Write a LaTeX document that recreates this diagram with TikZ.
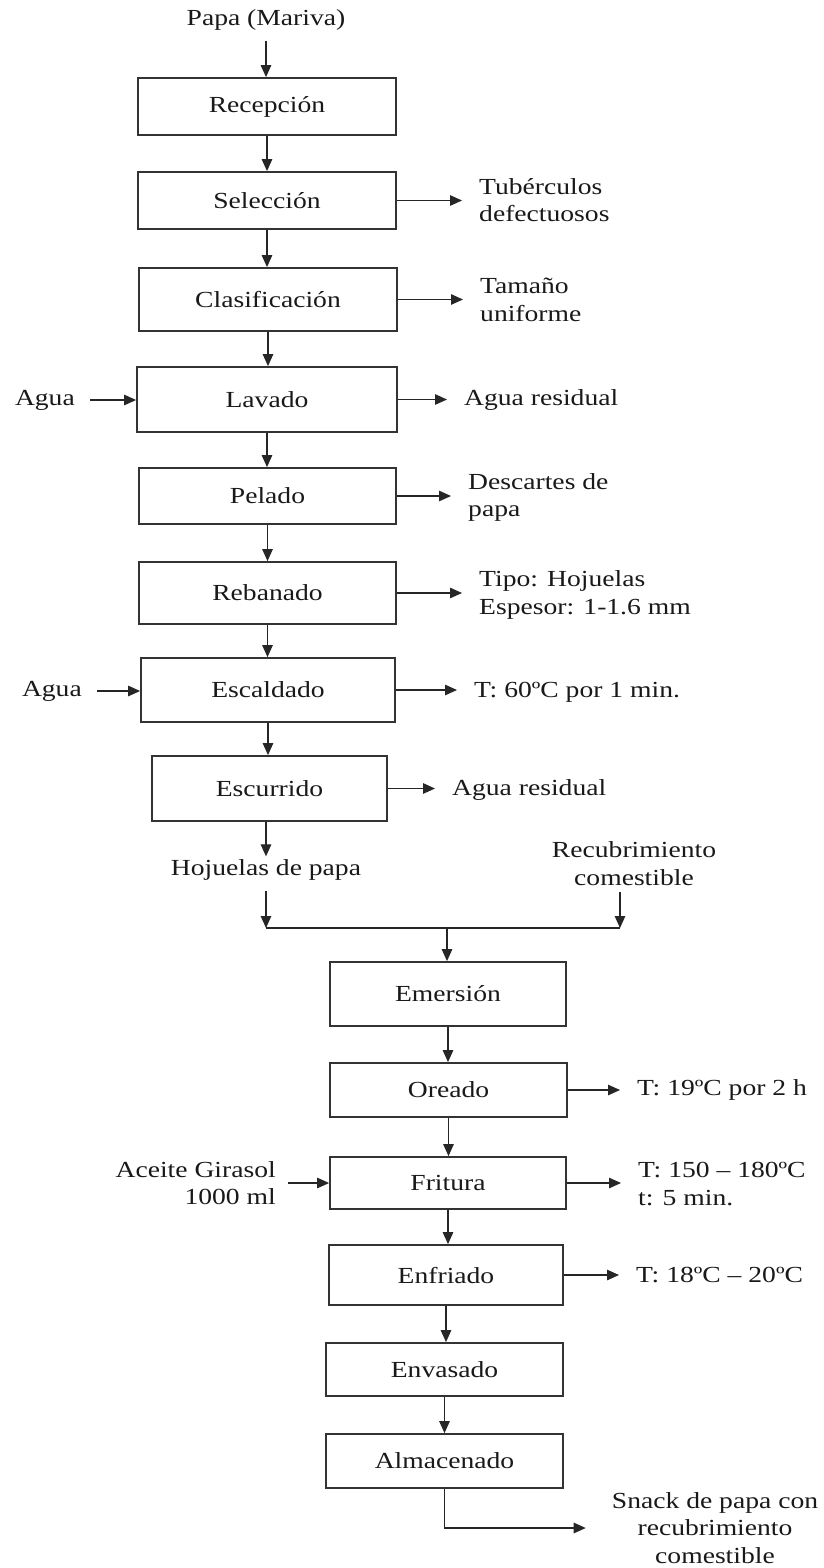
\documentclass[tikz,border=0pt]{standalone}
\usepackage{fontspec}
\setmainfont{Liberation Serif}[FakeStretch=1.2]
\usetikzlibrary{arrows.meta,calc}
\begin{document}
\begin{tikzpicture}[x=1pt,y=-1pt]
\tikzset{
  every node/.style={font=\fontsize{23}{27.5}\selectfont, text=black!90},
  stepbox/.style={draw=black!80, line width=1.8pt, inner sep=0pt, fill=white},
  lbl/.style={inner sep=0pt, align=left},
  arr/.style={-{Triangle[length=12pt,width=10.5pt]}, line width=1.2pt, draw=black!85},
  outarr/.style={arr, shorten >=17pt},
  inarr/.style={arr, shorten <=15pt},
  ln/.style={line width=1.2pt, draw=black!85}
}
\fill[white] (0,0) rectangle (824,1568);
\useasboundingbox (0,0) rectangle (824,1568);

% main process steps
\node[stepbox, minimum width=258pt, minimum height=57pt] (rec) at (267,106.5) {Recepción};
\node[stepbox, minimum width=258pt, minimum height=57pt] (sel) at (267,200.5) {Selección};
\node[stepbox, minimum width=258pt, minimum height=63pt] (cla) at (268,299.5) {Clasificación};
\node[stepbox, minimum width=260pt, minimum height=65pt] (lav) at (267,399.5) {Lavado};
\node[stepbox, minimum width=257pt, minimum height=56pt] (pel) at (267.5,496) {Pelado};
\node[stepbox, minimum width=257pt, minimum height=62pt] (reb) at (267.5,593) {Rebanado};
\node[stepbox, minimum width=254pt, minimum height=64pt] (esc) at (268,690) {Escaldado};
\node[stepbox, minimum width=235pt, minimum height=65pt] (esu) at (269.5,788.5) {Escurrido};
\node[stepbox, minimum width=236pt, minimum height=64pt] (eme) at (448,994) {Emersión};
\node[stepbox, minimum width=237pt, minimum height=54pt] (ore) at (448.5,1090) {Oreado};
\node[stepbox, minimum width=236pt, minimum height=52pt] (fri) at (448,1183) {Fritura};
\node[stepbox, minimum width=234pt, minimum height=60pt] (enf) at (446,1275) {Enfriado};
\node[stepbox, minimum width=237pt, minimum height=53pt] (env) at (444.5,1369.5) {Envasado};
\node[stepbox, minimum width=237pt, minimum height=54pt] (alm) at (444.5,1461) {Almacenado};

% inputs and outputs
\node[lbl] (papa) at (266,20) {Papa (Mariva)};
\node[lbl, anchor=west] (tub) at (479,200) {Tubérculos\\defectuosos};
\node[lbl, anchor=west] (tam) at (480,300) {Tamaño\\uniforme};
\node[lbl, anchor=east] (agua1) at (75,400) {Agua};
\node[lbl, anchor=west] (ar1) at (464,400) {Agua residual};
\node[lbl, anchor=west] (des) at (468,497.5) {Descartes de\\papa};
\node[lbl, anchor=west] (tipo) at (479,595) {Tipo: Hojuelas\\Espesor: 1-1.6 mm};
\node[lbl, anchor=east] (agua2) at (82,691) {Agua};
\node[lbl, anchor=west] (t60) at (474,692) {T: 60ºC por 1 min.};
\node[lbl, anchor=west] (ar2) at (452,790) {Agua residual};
\node[lbl] (hoj) at (266,870) {Hojuelas de papa};
\node[lbl, align=center] (rcb) at (634,863.5) {Recubrimiento\\comestible};
\node[lbl, anchor=west] (t19) at (637,1090) {T: 19ºC por 2 h};
\node[lbl, anchor=east, align=right] (ace) at (276,1183) {Aceite Girasol\\1000 ml};
\node[lbl, anchor=west] (t150) at (638,1184) {T: 150 – 180ºC\\t: 5 min.};
\node[lbl, anchor=west] (t18) at (636,1275) {T: 18ºC – 20ºC};
\node[lbl, align=center] (snack) at (715,1528) {Snack de papa con\\recubrimiento\\comestible};

% junction of the two streams
\coordinate (jl) at (266,928);
\coordinate (jr) at (620,928);
\coordinate (jm) at (447,928);

% vertical flow
\draw[arr, shorten <=10pt] (papa.south) -- (papa.south |- rec.north);
\draw[arr] (rec.south) -- (rec.south |- sel.north);
\draw[arr] (sel.south) -- (sel.south |- cla.north);
\draw[arr] (cla.south) -- (cla.south |- lav.north);
\draw[arr] (lav.south) -- (lav.south |- pel.north);
\draw[arr] (pel.south) -- (pel.south |- reb.north);
\draw[arr] (reb.south) -- (reb.south |- esc.north);
\draw[arr] (esc.south) -- (esc.south |- esu.north);
\draw[arr, shorten >=3pt] (esu.south -| hoj.north) -- (hoj.north);
\draw[arr, shorten <=10pt] (hoj.south) -- (jl);
\draw[arr, shorten <=6pt] (rcb.south -| jr) -- (jr);
\draw[ln] (jl) -- (jr);
\draw[arr] (jm) -- (jm |- eme.north);
\draw[arr] (eme.south) -- (eme.south |- ore.north);
\draw[arr] (ore.south) -- (ore.south |- fri.north);
\draw[arr] (fri.south) -- (fri.south |- enf.north);
\draw[arr] (enf.south) -- (enf.south |- env.north);
\draw[arr] (env.south) -- (env.south |- alm.north);
\draw[arr, shorten >=26pt] (alm.south) |- (snack.west);

% side streams
\draw[outarr] (sel.east) -- (sel.east -| tub.west);
\draw[outarr] (cla.east) -- (cla.east -| tam.west);
\draw[inarr] (agua1.east) -- (agua1.east -| lav.west);
\draw[outarr] (lav.east) -- (lav.east -| ar1.west);
\draw[outarr] (pel.east) -- (pel.east -| des.west);
\draw[outarr] (reb.east) -- (reb.east -| tipo.west);
\draw[inarr] (agua2.east) -- (agua2.east -| esc.west);
\draw[outarr] (esc.east) -- (esc.east -| t60.west);
\draw[outarr] (esu.east) -- (esu.east -| ar2.west);
\draw[outarr] (ore.east) -- (ore.east -| t19.west);
\draw[inarr, shorten <=12pt] (ace.east |- fri.west) -- (fri.west);
\draw[outarr] (fri.east) -- (fri.east -| t150.west);
\draw[outarr] (enf.east) -- (enf.east -| t18.west);
\end{tikzpicture}
\end{document}
